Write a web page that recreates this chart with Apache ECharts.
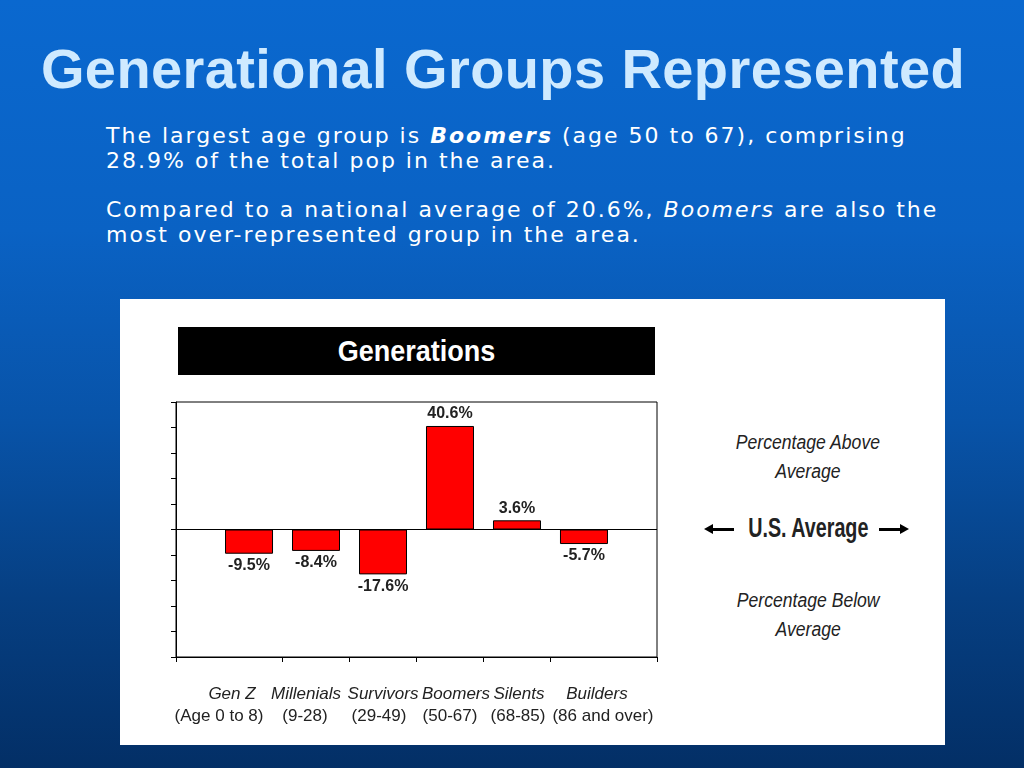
<!DOCTYPE html>
<html><head><meta charset="utf-8">
<script src="https://cdn.jsdelivr.net/npm/echarts@6/dist/echarts.min.js"></script>
<style>
html,body{margin:0;padding:0;width:1024px;height:768px;overflow:hidden;}
body{position:relative;background:linear-gradient(180deg,#0a68cf 0%,#0a62c4 30%,#0853a8 55%,#063f82 78%,#032f66 100%);font-family:'DejaVu Sans',Verdana,sans-serif;}
#title{position:absolute;left:0;width:1006px;top:37px;text-align:center;font-weight:bold;font-size:56px;letter-spacing:0.4px;font-family:'Liberation Sans',Arial,sans-serif;color:#cfeaff;line-height:64px;white-space:nowrap;}
.p{position:absolute;left:106px;color:#fff;font-size:22px;letter-spacing:2px;line-height:25px;white-space:nowrap;}
#panel{position:absolute;left:120px;top:299px;width:825px;height:446px;background:#fff;}
#gen{position:absolute;left:178px;top:327px;width:477px;height:48px;background:#000;color:#fff;font-weight:bold;font-size:30px;font-family:'Liberation Sans',Arial,sans-serif;text-align:center;line-height:48px;white-space:nowrap;}
.sx{display:inline-block;transform-origin:50% 50%;}
.side{position:absolute;left:690px;width:236px;text-align:center;color:#222;font-family:'Liberation Sans',Arial,sans-serif;white-space:nowrap;}
.it{font-style:italic;font-size:20px;line-height:29px;}
.avg{font-weight:bold;font-size:27px;line-height:30px;}
.arrow{position:absolute;top:528px;height:3px;width:22px;background:#000;}
.arrow.l{left:712px;}
.arrow.r{left:879px;}
.tri{position:absolute;top:524px;width:0;height:0;border-top:5.5px solid transparent;border-bottom:5.5px solid transparent;}
.tri.l{left:704px;border-right:9px solid #000;}
.tri.r{left:900px;border-left:9px solid #000;}
#chart{position:absolute;left:0;top:0;width:1024px;height:768px;}
</style>
</head><body>
<div id="title">Generational Groups Represented</div>
<div class="p" style="top:123px;">The largest age group is <b><i>Boomers</i></b> (age 50 to 67), comprising<br>28.9% of the total pop in the area.</div>
<div class="p" style="top:197px;">Compared to a national average of 20.6%, <i>Boomers</i> are also the<br>most over-represented group in the area.</div>
<div id="panel"></div>
<div id="gen"><span class="sx" style="transform:scaleX(0.9);">Generations</span></div>
<div class="side it" style="top:428px;"><span class="sx" style="transform:scaleX(0.88);">Percentage Above<br>Average</span></div>
<div class="side avg" style="top:513px;"><span class="sx" style="transform:scaleX(0.73);">U.S. Average</span></div>
<div class="arrow l"></div><div class="tri l"></div>
<div class="arrow r"></div><div class="tri r"></div>
<div class="side it" style="top:586px;"><span class="sx" style="transform:scaleX(0.88);">Percentage Below<br>Average</span></div>
<div id="chart"></div>
<script>
const categories = ['Gen Z', 'Millenials', 'Survivors', 'Boomers', 'Silents', 'Builders'];
const ageRanges = ['(Age 0 to 8)', '(9-28)', '(29-49)', '(50-67)', '(68-85)', '(86 and over)'];
const values = [-9.5, -8.4, -17.6, 40.6, 3.6, -5.7];
const yMin = -50, yMax = 50, yInterval = 10;

// ---- styling (not data) ----
const sans = "'Liberation Sans',Arial,sans-serif";
const nameShift = [-17, -10, 0, 6, 2, 13];   // horizontal nudge of each label line, px
const rangeShift = [-30, -11, -4, 0, 1, 19];

const positions = categories.map((c, i) => i);
const xMin = -1.09, xMax = 6.09;
const tickVals = [xMin].concat(positions.slice(0, -1).map(p => p + 0.5)).concat([xMax]);
// empty end labels keep every category label clear of min/max overlap hiding
const labelVals = [xMin].concat(positions).concat([xMax]);

const pad = s => [0, Math.max(0, -2 * s), 0, Math.max(0, 2 * s)];
const rich = {};
categories.forEach((c, i) => {
  rich['a' + i] = {fontStyle: 'italic', fontSize: 17, fontFamily: sans, color: '#222', lineHeight: 22, padding: pad(nameShift[i])};
  rich['b' + i] = {fontSize: 17, fontFamily: sans, color: '#222', lineHeight: 22, padding: pad(rangeShift[i])};
});

const chart = echarts.init(document.getElementById('chart'), null, {renderer: 'canvas'});
chart.setOption({
  backgroundColor: 'transparent',
  animation: false,
  grid: {left: 176, right: 367, top: 402, bottom: 111, show: true, borderColor: '#000', borderWidth: 1, backgroundColor: 'transparent'},
  xAxis: {
    type: 'value', min: xMin, max: xMax, position: 'bottom',
    axisLine: {show: true, onZero: false, lineStyle: {color: '#000', width: 1}},
    axisTick: {show: true, inside: false, length: 5, customValues: tickVals, lineStyle: {color: '#000'}},
    splitLine: {show: false},
    axisLabel: {
      show: true, customValues: labelVals, margin: 26, hideOverlap: false,
      formatter: v => {
        const i = Math.round(v);
        if (Math.abs(v - i) > 1e-6 || i < 0 || i >= categories.length) return '';
        return '{a' + i + '|' + categories[i] + '}\n{b' + i + '|' + ageRanges[i] + '}';
      },
      rich: rich
    }
  },
  yAxis: {
    type: 'value', min: yMin, max: yMax, interval: yInterval,
    axisLine: {show: true, onZero: false, lineStyle: {color: '#000', width: 1}},
    axisTick: {show: true, inside: false, length: 5, lineStyle: {color: '#000'}},
    axisLabel: {show: false},
    splitLine: {show: false}
  },
  series: [{
    type: 'bar',
    barWidth: 48,
    data: values.map((v, i) => ({value: [positions[i], v], label: {position: v < 0 ? 'bottom' : 'top'}})),
    itemStyle: {color: '#ff0000', borderColor: '#000', borderWidth: 1},
    label: {
      show: true, distance: 4, color: '#222', fontWeight: 'bold', fontSize: 16, fontFamily: sans,
      formatter: p => p.value[1].toFixed(1) + '%'
    },
    markLine: {
      silent: true, symbol: 'none', label: {show: false},
      lineStyle: {color: '#000', width: 1, type: 'solid'},
      data: [{yAxis: 0}]
    }
  }]
});
</script>
</body></html>
